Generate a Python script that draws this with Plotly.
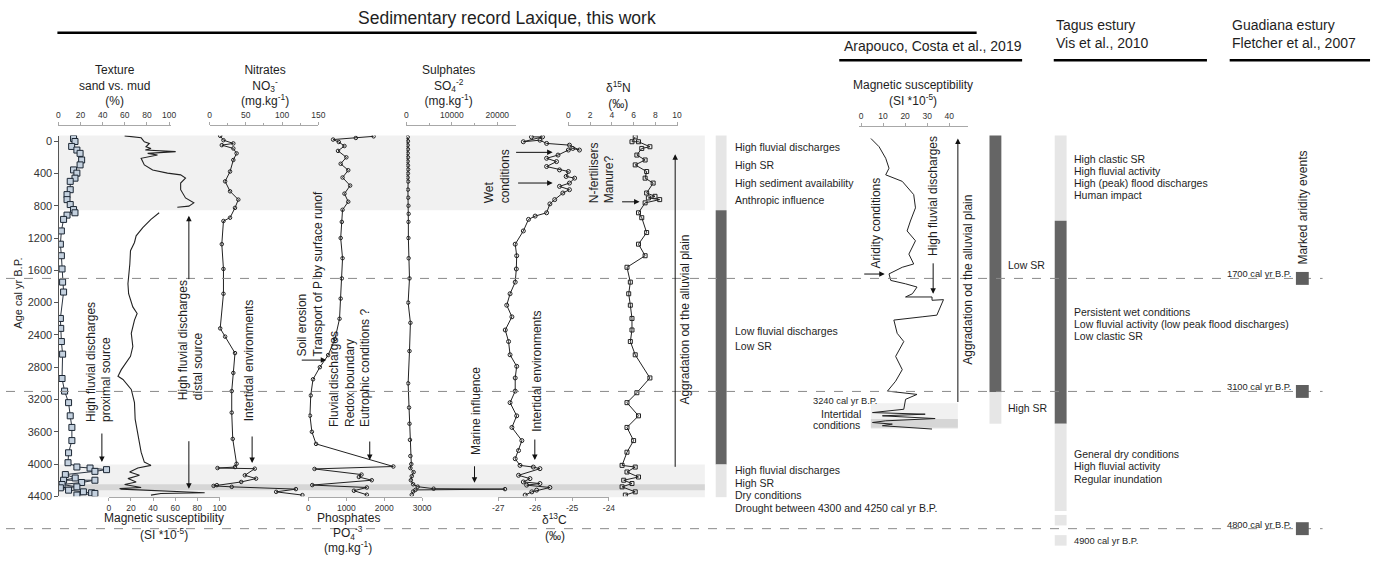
import plotly.graph_objects as go

W, H = 1384, 561
AGE0_Y = 142.7       # pixel row of age 0 cal yr B.P.
PX_PER_YR = 0.0816   # vertical scale shared by every panel
AGE_TOP, AGE_BOT = -70, 4400


def fx(x):
    return x / W


def fy(y):
    return 1 - y / H


# ---------------- data ----------------
texture_age = [-33, 4, 65, 110, 151, 233, 294, 356, 396, 458, 498, 601, 662, 724, 785, 847, 887, 916, 969,
               1112, 1276, 1419, 1583, 1746, 1869, 2196, 2319, 2482, 2638, 2940, 3096, 3239, 3402, 3546,
               3709, 3860, 3983, 4036, 4049, 4069, 4090, 4130, 4172, 4200, 4200, 4228, 4253, 4282, 4294,
               4323, 4344, 4356, 4364, 4384]
texture_pct = [13.7, 15, 12, 16.7, 19.6, 21, 19.6, 13.7, 16.7, 15, 10.7, 10.7, 7.8, 7.8, 10.7, 13.7, 15, 7.8, 4.7,
               2.7, 1.8, 2.7, 3.3, 3.8, 4.7, 1.8, 2.1, 2.7, 3.8, 3.3, 5.6, 9.2, 10.7, 12.2,
               12.2, 9.2, 8.7, 16.7, 28.6, 43.5, 33, 6.3, 15.2, 4.7, 33, 21, 3.3, 16.7, 1.8,
               9.2, 22.6, 30, 33, 16.7]

ms_age = [-66, -42, 7, 28, 69, 90, 110, 130, 151, 172, 212, 294, 356, 396, 417, 458, 519, 601, 703, 764, 805, 818,
          None,
          887, 940, 969, 1071, 1173, 1255, 1357, 1521, 1644, 1767, 1890, 2053, 2135, 2216, 2380, 2544, 2666,
          2748, 2830, 2912, 2952, 3075, 3239, 3443, 3607, 3853, 3975, 4016, 4049, 4098, 4139, 4180, 4221,
          4253, 4290, 4302, 4310, 4356, 4364, 4385]
ms_val = [14.3, 29.2, 32.1, 36.6, 33.6, 38.1, 33, 60.4, 35.1, 44, 29.2, 32.1, 39.6, 53, 64.9, 69.3, 64.9, 64.9, 69.3,
          76.8, 72.3, 61.9,
          None,
          45.5, 41, 38.1, 30.7, 24.7, 23.2, 19.6, 19, 17.9, 17.3, 17.9, 21.7, 25.6, 23.2, 20.3, 21.7, 19.6,
          15.8, 11.3, 8.3, 12.8, 20.3, 23.2, 23.8, 26.2, 29.2, 32.1, 38.1, 26.2, 18.8, 27.7, 17.3, 24.7,
          14.3, 29.2, 9.8, 11.3, 86.6, 47, 38.1]

nitrate_age = [-66, -12, 28, 49, 90, 151, 233, 376, 498, 621, 724, 826, 948, 989, 1276, 1583, 1890, 2319, 2421,
               2625, 2871, 3096, 3362, 3688, 3996, 4037, 4049, 4057, 4139, 4180, 4221, 4261, 4270, 4282, 4310,
               4344, 4384]
nitrate_val = [14.6, 19.1, 32.7, 16.8, 32.7, 37.2, 32.7, 28.2, 21.4, 28.2, 39.6, 35, 28.2, 19.1, 16.8, 19.1, 19.1,
               14.6, 21.4, 35, 32.7, 30.5, 30.5, 31.9, 37.2, 35, 10.9, 62.3, 48.6, 64.1, 43.6, 10, 5.5, 30.5, 119,
               91.8, 128]

phosphate_age = [-60, -40, -20, 10, 60, 120, 200, 280, 360, 450, 550, 650, 750, 850, 1000, 1200, 1450, 1700,
                 1950, 2200, 2450, 2650, 2800, 2950, 3150, 3400, 3600, 3750, 4030, 4060, 4130, 4160, 4200, 4260,
                 4290, 4330, 4380]
phosphate_val = [1720, 1250, 650, 800, 950, 780, 1000, 850, 1050, 900, 1100, 950, 1050, 900, 880, 850, 900, 880,
                 850, 820, 700, 520, 300, 120, 60, 40, 90, 200, 2240, 160, 1400, 1330, 1670, 100,
                 1540, 1200, 1540]

sulphate_age = [-50, 0, 50, 100, 150, 200, 250, 300, 350, 400, 450, 500, 600, 700, 800, 900, 1000, 1200, 1450,
                1700, 2000, 2250, 2600, 3000, 3300, 3500, 3700, 3900, 4000, 4050, 4100, 4150, 4200, 4250, 4280,
                4305, 4310, 4320, 4340, 4380]
sulphate_val = [300, 350, 300, 350, 300, 350, 300, 350, 400, 350, 300, 400, 350, 400, 450, 500, 450, 450, 500,
                700, 400, 900, 700, 400, 600, 700, 800, 900, 1100, 900, 1600, 1200, 1000, 1500, 2500,
                6000, 21700, 2000, 1500, 1200]

d13c_age = [-53, -53, 7, -12, 28, 49, 110, 90, 110, 172, 212, 253, 314, 356, 376, 437, 458, 519, 560, 601, 642,
            724, 777, 887, 928, 969, 1112, 1276, 1419, 1583, 1746, 1890, 2032, 2176, 2339, 2482, 2646, 2789,
            2933, 3096, 3239, 3402, 3546, 3709, 3832, 3934, 4016, 4037, 4057, 4139, 4180, 4221, 4241, 4261,
            4290, 4323, 4344, 4384]
d13c_val = [-26.1, -25.8, -26.32, -25.87, -25.69, -25.07, -24.8, -24.98, -25.1, -25.38, -25.69, -25.42, -25.69,
            -25.34, -25.1, -25.16, -24.93, -25.07, -25.34, -25.07, -25.25, -25.47, -25.6, -25.69, -26.0, -26.18,
            -26.32, -26.54, -26.5, -26.51, -26.54, -26.68, -26.77, -26.63, -26.81, -26.72, -26.68, -26.5,
            -26.54, -26.54, -26.68, -26.5, -26.63, -26.36, -26.45, -26.54, -26.41, -26.05, -25.87, -26.45,
            -26.14, -26.32, -25.87, -26.23, -25.6, -25.96, -26.09, -26.27]

d15n_age = [-53, 7, 7, 69, 90, 172, 233, 294, 376, 458, 519, 642, 683, 703, 724, 764, 887, 948, 1132, 1276,
            1419, 1562, 1746, 1890, 2032, 2196, 2339, 2482, 2646, 2933, 3116, 3239, 3402, 3546, 3709, 3853,
            4016, 4037, 4098, 4160, 4200, 4241, 4282, 4344, 4384]
d15n_val = [6.15, 5.85, 6.45, 7.5, 6.75, 6.3, 7.06, 6.15, 7.2, 7.06, 7.8, 7.2, 7.97, 7.36, 8.4, 7.06, 6.45, 6.75,
            7.2, 6.45, 7.06, 5.39, 5.7, 5.55, 5.7, 5.85, 5.85, 5.7, 6.15, 7.5, 6.3, 5.39, 6.45, 5.39, 6.0, 5.39,
            4.94, 6.15, 5.39, 6.45, 5.09, 5.85, 4.94, 6.15, 5.24]

arap_age = [-33, 69, 212, 335, 417, 498, 662, 826, 989, 1112, 1234, 1399, 1521, 1562, 1644, 1725, 1767, 1807,
            1890, 1930, 1930, 1971, 1963, 2155, 2176, 2216, 2380, 2482, 2666, 2830, 2973, 3096, 3137, 3198,
            3321, 3362, 3382, 3402, 3436, 3464, 3485, 3505, 3525, 3566]
arap_ms = [4.5, 8.2, 11.2, 12.7, 11.2, 18.7, 23.9, 24.7, 22.4, 20.9, 24.7, 21.7, 23.9, 18.7, 12.7, 13.5, 20.2,
           25.4, 23.3, 20.2, 32.2, 32.2, 37.4, 34.4, 27.7, 14.9, 16.4, 19.4, 15.7, 18.7, 15.7, 12.0, 25.4, 20.2,
           19.4, 5.2, 29.1, 9.7, 33.6, 11.2, 5.2, 14.2, 9.7, 32.2]

# sedimentation-rate columns: zone tops, bottoms (cal yr B.P.) and level
laxique_sr_top = [-70, 855, 4005]
laxique_sr_bot = [855, 4005, 4410]
laxique_sr_lvl = ["high", "low", "high"]
arapouco_sr_top = [-70, 3110]
arapouco_sr_bot = [3110, 3500]
arapouco_sr_lvl = ["low", "high"]
tagus_sr_top = [-70, 985, 3500, 4630, 4880]
tagus_sr_bot = [985, 3500, 4580, 4760, 5010]
tagus_sr_lvl = ["high", "low", "high", "high", "high"]

# highlighted intervals of the Laxique core and the Arapouco record
laxique_bands = [(-70, 855, "light"), (4005, 4410, "light"), (4250, 4325, "dark")]
arapouco_bands = [(3245, 3565, "light"), (3440, 3550, "dark")]

aridity_events = [1700, 3100, 4800]

# ---------------- styling ----------------
FONT = "Liberation Sans, Arial, sans-serif"
INK = "#1e1e1e"
LINE = "#222222"
SR_COLORS = {"high": "#e6e6e6", "low": "#656565"}
BAND_COLORS = {"light": "#f1f1f1", "dark": "#d6d6d6"}

fig = go.Figure()


def axis(x0, x1, rng, ticks, line_y, side, ticktext=None, minor=None):
    d = dict(domain=[fx(x0), fx(x1)], range=rng, anchor="free", position=fy(line_y), side=side,
             showline=True, linecolor="#a8a8a8", linewidth=1, ticks="outside", ticklen=3,
             tickcolor="#a8a8a8", tickvals=ticks, tickfont=dict(size=8.5, color="#333", family=FONT),
             showgrid=False, zeroline=False, fixedrange=True)
    d["ticktext"] = ticktext if ticktext is not None else [str(t) for t in ticks]
    if minor is not None:
        d["minor"] = dict(tickvals=minor, ticks="outside", ticklen=2, tickcolor="#a8a8a8")
    return d


layout_axes = dict(
    xaxis=axis(53, 167, [0, 101.8], [0, 20, 40, 60, 80, 100], 126, "top"),
    xaxis2=axis(104, 216, [0, 100], [0, 20, 40, 60, 80, 100], 502, "bottom"),
    xaxis3=axis(206, 316, [0, 150], [0, 50, 100, 150], 126, "top", minor=[25, 75, 125]),
    xaxis4=axis(306, 421, [0, 3000], [0, 1000, 2000, 3000], 502, "bottom"),
    xaxis5=axis(405, 516, [0, 24130], [0, 10000, 20000], 126, "top", minor=[5000, 15000]),
    xaxis6=axis(498, 610, [-27, -24], [-27, -26, -25, -24], 502, "bottom",
                ticktext=["-27", "-26", "-25", "-24"]),
    xaxis7=axis(569, 680, [0, 10.1], [0, 2, 4, 6, 8, 10], 126, "top"),
    xaxis8=axis(863, 973, [-0.9, 48.4], [0, 10, 20, 30, 40], 127, "top"),
)

y_dom = [fy(AGE0_Y + AGE_BOT * PX_PER_YR), fy(AGE0_Y + AGE_TOP * PX_PER_YR)]
layout_axes["yaxis"] = dict(domain=y_dom, range=[AGE_BOT, AGE_TOP], anchor="free", position=fx(53),
                            showline=True, linecolor="#555", linewidth=1, ticks="outside", ticklen=4,
                            tickcolor="#555", tickvals=list(range(0, 4401, 400)),
                            tickfont=dict(size=11, color="#333", family=FONT), showgrid=False,
                            zeroline=False, fixedrange=True)
# full-height companion axis with the same age scale, used for columns and guide lines
layout_axes["yaxis2"] = dict(domain=[0, 1], range=[(H - AGE0_Y) / PX_PER_YR, -AGE0_Y / PX_PER_YR],
                             anchor="free", position=0, visible=False, fixedrange=True)

# ---------------- curves ----------------
small = dict(size=3.5, color=LINE, symbol="circle-open", line=dict(width=1))
fig.add_trace(go.Scatter(x=ms_val, y=ms_age, xaxis="x2", yaxis="y", mode="lines",
                         line=dict(color=LINE, width=1.1), connectgaps=False))
fig.add_trace(go.Scatter(x=texture_pct, y=texture_age, xaxis="x", yaxis="y", mode="lines+markers",
                         line=dict(color="#2b3440", width=1),
                         marker=dict(symbol="square", size=6, color="#c4d1df",
                                     line=dict(color="#1b2633", width=1))))
fig.add_trace(go.Scatter(x=nitrate_val, y=nitrate_age, xaxis="x3", yaxis="y", mode="lines+markers",
                         line=dict(color=LINE, width=1), marker=small))
fig.add_trace(go.Scatter(x=phosphate_val, y=phosphate_age, xaxis="x4", yaxis="y", mode="lines+markers",
                         line=dict(color=LINE, width=1), marker=small))
fig.add_trace(go.Scatter(x=sulphate_val, y=sulphate_age, xaxis="x5", yaxis="y", mode="lines+markers",
                         line=dict(color=LINE, width=1), marker=small))
fig.add_trace(go.Scatter(x=d13c_val, y=d13c_age, xaxis="x6", yaxis="y", mode="lines+markers",
                         line=dict(color=LINE, width=1), marker=dict(small, size=4)))
fig.add_trace(go.Scatter(x=d15n_val, y=d15n_age, xaxis="x7", yaxis="y", mode="lines+markers",
                         line=dict(color=LINE, width=1),
                         marker=dict(size=4, color=LINE, symbol="square-open", line=dict(width=1))))
fig.add_trace(go.Scatter(x=arap_ms, y=arap_age, xaxis="x8", yaxis="y", mode="lines",
                         line=dict(color=LINE, width=1)))

# ---------------- shapes ----------------
shapes = []
for a0, a1, kind in laxique_bands:
    shapes.append(dict(type="rect", xref="paper", yref="y2", x0=fx(53), x1=fx(707), y0=a0, y1=a1,
                       fillcolor=BAND_COLORS[kind], line=dict(width=0), layer="below"))
for a0, a1, kind in arapouco_bands:
    shapes.append(dict(type="rect", xref="paper", yref="y2", x0=fx(875), x1=fx(963), y0=a0, y1=a1,
                       fillcolor=BAND_COLORS[kind], line=dict(width=0), layer="below"))


def sr_column(tops, bots, levels, x0, x1):
    for a0, a1, lvl in zip(tops, bots, levels):
        shapes.append(dict(type="rect", xref="paper", yref="y2", x0=fx(x0), x1=fx(x1), y0=a0, y1=a1,
                           fillcolor=SR_COLORS[lvl], line=dict(width=0), layer="below"))


sr_column(laxique_sr_top, laxique_sr_bot, laxique_sr_lvl, 718, 729)
sr_column(arapouco_sr_top, arapouco_sr_bot, arapouco_sr_lvl, 995, 1007)
sr_column(tagus_sr_top, tagus_sr_bot, tagus_sr_lvl, 1061, 1073)

for a in aridity_events:
    shapes.append(dict(type="line", xref="paper", yref="y2", x0=0, x1=fx(1332), y0=a, y1=a,
                       line=dict(color="#8a8a8a", width=1, dash="dash"), layer="above"))
    shapes.append(dict(type="rect", xref="paper", yref="y2", x0=fx(1305), x1=fx(1318), y0=a - 80, y1=a + 80,
                       fillcolor="#5f5f5f", line=dict(width=0), layer="above"))

# header rules
for x0, x1, y, w in [(52, 982, 33, 2.5), (843, 1028, 61, 2.5), (1060, 1215, 61, 2.5), (1238, 1380, 61, 2.5)]:
    shapes.append(dict(type="line", xref="paper", yref="paper", x0=fx(x0), x1=fx(x1), y0=fy(y), y1=fy(y),
                       line=dict(color="#000", width=w)))

# ---------------- text ----------------
ann = []


def text(t, x, y, size=10.5, angle=0, xa="left", ya="middle", align="left", color=INK):
    ann.append(dict(text=t, x=fx(x), y=fy(y), xref="paper", yref="paper", showarrow=False,
                    textangle=angle, xanchor=xa, yanchor=ya, align=align,
                    font=dict(family=FONT, size=size, color=color)))


def arrow(x_tail, y_tail, x_head, y_head):
    ann.append(dict(text="", x=fx(x_head), y=fy(y_head), xref="paper", yref="paper", showarrow=True,
                    ax=x_tail - x_head, ay=y_tail - y_head, axref="pixel", ayref="pixel",
                    arrowhead=2, arrowsize=1.1, arrowwidth=1, arrowcolor="#111", standoff=0, startstandoff=0))


# headers
text("Sedimentary record Laxique, this work", 507, 18, size=17.5, xa="center")
text("Arapouco, Costa et al., 2019", 846, 47, size=14)
text("Tagus estury<br>Vis et al., 2010", 1060, 34, size=14)
text("Guadiana estury<br>Fletcher et al., 2007", 1238, 34, size=14)

# panel titles
text("Texture<br>sand vs. mud<br>(%)", 110, 86, size=12, xa="center", align="center")
text("Nitrates<br>NO<sub>3</sub><sup>-</sup><br>(mg.kg<sup>-1</sup>)", 262, 86, size=12, xa="center", align="center")
text("Sulphates<br>SO<sub>4</sub><sup>-2</sup><br>(mg.kg<sup>-1</sup>)", 448, 86, size=12, xa="center", align="center")
text("δ<sup>15</sup>N<br>(‰)", 620, 96, size=12, xa="center", align="center")
text("Magnetic susceptibility", 160, 524, size=12, xa="center")
text("(SI *10<sup>-5</sup>)", 160, 540, size=12, xa="center")
text("Phosphates", 346, 524, size=12, xa="center")
text("PO<sub>4</sub><sup>-3</sup>", 346, 539, size=12, xa="center")
text("(mg.kg<sup>-1</sup>)", 346, 553, size=12, xa="center")
text("δ<sup>13</sup>C", 555, 525, size=12, xa="center")
text("(‰)", 555, 542, size=12, xa="center")
text("Magnetic susceptibility<br>(SI *10<sup>-5</sup>)", 918, 94, size=12, xa="center", align="center")
text("Age cal yr B.P.", 12, 296, size=11, angle=-90, xa="center", ya="middle")

# rotated notes in the Laxique panels
text("High fluvial discharges<br>proximal source", 94, 366, size=12, angle=-90, xa="center")
arrow(97, 437, 97, 467)
text("High fluvial discharges<br>distal source", 187, 344, size=12, angle=-90, xa="center")
arrow(185, 283, 185, 218)
arrow(185, 445, 185, 494)
text("Intertidal environments", 246, 365, size=12, angle=-90, xa="center")
arrow(249, 440, 249, 468)
text("Soil erosion<br>Transport of P by surface runof", 308, 277, size=12, angle=-90, xa="center")
arrow(298, 364, 324, 364)
text("Fluvial discharges<br>Redox boundary<br>Eutrophic conditions ?", 347, 372, size=12, angle=-90, xa="center")
arrow(368, 445, 368, 465)
text("Marine influence", 475, 416, size=12, angle=-90, xa="center")
arrow(474, 470, 474, 488)
text("Intertidal environments", 537, 375, size=12, angle=-90, xa="center")
arrow(535, 443, 535, 465)
text("Wet<br>conditions", 497, 178, size=12, angle=-90, xa="center")
arrow(515, 154, 553, 154)
arrow(517, 185, 553, 185)
text("N-fertilisers<br>Manure?", 603, 175, size=12, angle=-90, xa="center")
arrow(622, 204, 641, 204)
arrow(677, 470, 677, 156)
text("Aggradation od the alluvial plain", 686, 323, size=12, angle=-90, xa="center")

# Laxique interpretation
for t, y in [("High fluvial discharges", 149), ("High SR", 167), ("High sediment availability", 185),
             ("Anthropic influence", 202), ("Low fluvial discharges", 335), ("Low SR", 350),
             ("High fluvial discharges", 475), ("High SR", 488), ("Dry conditions", 500),
             ("Drought between 4300 and 4250 cal yr B.P.", 513)]:
    text(t, 736, y)

# Arapouco notes
text("Aridity conditions", 880, 225, size=12, angle=-90, xa="center")
arrow(867, 277, 889, 277)
text("High fluvial discharges", 938, 198, size=12, angle=-90, xa="center")
arrow(938, 265, 938, 297)
arrow(963, 405, 963, 140)
text("Aggradation od the alluvial plain", 973, 283, size=12, angle=-90, xa="center")
text("3240 cal yr B.P.", 883, 405, size=9.3, xa="right")
text("Intertidal", 867, 418, size=10.5, xa="right")
text("conditions", 866, 430, size=10.5, xa="right")
text("Low SR", 1012, 268)
text("High SR", 1012, 412)

# Tagus notes
for t, y in [("High clastic SR", 161), ("High fluvial activity", 173), ("High (peak) flood discharges", 185),
             ("Human impact", 197), ("Persistent wet conditions", 315),
             ("Low fluvial activity (low peak flood discharges)", 328), ("Low clastic SR", 340),
             ("General dry conditions", 459), ("High fluvial activity", 471), ("Regular inundation", 484)]:
    text(t, 1078, y)
text("4900 cal yr B.P.", 1078, 547, size=9.3)

# Guadiana notes
text("Marked aridity events", 1312, 210, size=12, angle=-90, xa="center")
for a in aridity_events:
    text(f"{a} cal yr B.P.", 1302, AGE0_Y + a * PX_PER_YR - 4, size=9.3, xa="right")

fig.update_layout(width=W, height=H, margin=dict(l=0, r=0, t=0, b=0), paper_bgcolor="white",
                  plot_bgcolor="rgba(0,0,0,0)", showlegend=False, shapes=shapes, annotations=ann,
                  font=dict(family=FONT), **layout_axes)
fig.write_html("out.html")
